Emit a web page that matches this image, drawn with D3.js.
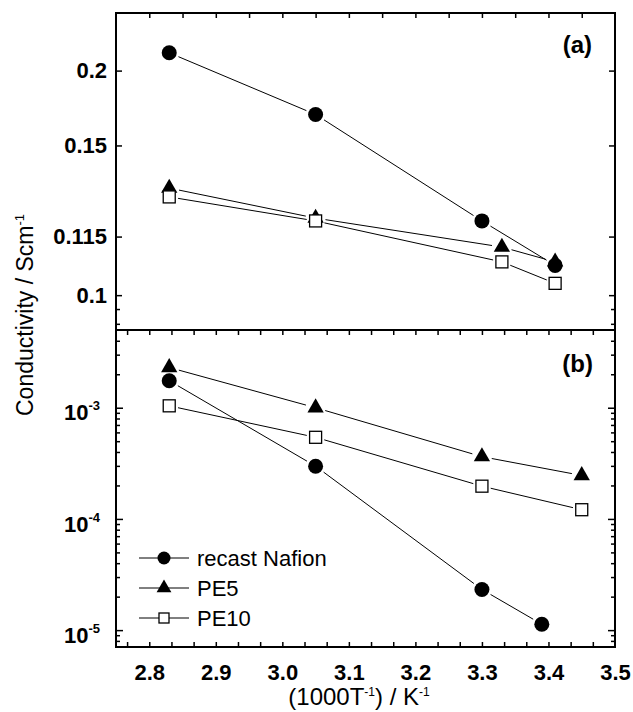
<!DOCTYPE html>
<html>
<head>
<meta charset="utf-8">
<script src="https://cdn.jsdelivr.net/npm/d3@7"></script>
<style>
  body { margin: 0; background: #fff; }
  svg { font-family: "Liberation Sans", Arial, sans-serif; }
  .tick line { stroke: #000; stroke-width: 1.5; }
</style>
</head>
<body>
<div id="chart"></div>
<script>
var svgWidth = 633;
var svgHeight = 712;

// x values (1000/T) and conductivities
var nafionXa = [2.83, 3.05, 3.30, 3.41];
var nafionA  = [0.2172, 0.1673, 0.1198, 0.1071];
var pe5Xa    = [2.83, 3.05, 3.33, 3.41];
var pe5A     = [0.1313, 0.1207, 0.1120, 0.1080];
var pe10Xa   = [2.83, 3.05, 3.33, 3.41];
var pe10A    = [0.1280, 0.1198, 0.1080, 0.1027];

var nafionXb = [2.83, 3.05, 3.30, 3.39];
var nafionB  = [1.75e-3, 2.98e-4, 2.32e-5, 1.13e-5];
var pe5Xb    = [2.83, 3.05, 3.30, 3.45];
var pe5B     = [2.3e-3, 1.0e-3, 3.63e-4, 2.46e-4];
var pe10Xb   = [2.83, 3.05, 3.30, 3.45];
var pe10B    = [1.04e-3, 5.42e-4, 1.97e-4, 1.21e-4];

// tick labels
var xTicks = [2.8, 2.9, 3.0, 3.1, 3.2, 3.3, 3.4, 3.5];
var xTickLabels = ["2.8", "2.9", "3.0", "3.1", "3.2", "3.3", "3.4", "3.5"];
var aTicks = [0.2, 0.15, 0.115, 0.1];
var aTickLabels = ["0.2", "0.15", "0.115", "0.1"];
var aMinor = [0.097, 0.094];
var bTicks = [1e-3, 1e-4, 1e-5];
var bTickExp = ["-3", "-4", "-5"];

var legendNames = ["recast Nafion", "PE5", "PE10"];

// frame edges
var frameL = 116, frameR = 615, frameT = 13, frameM = 330, frameB = 647;
var labelFont = "Liberation Sans, Arial, sans-serif";

var svg = d3.select("#chart")
  .append("svg")
    .attr("width", svgWidth)
    .attr("height", svgHeight);

var x = d3.scaleLinear().domain([2.75, 3.5]).range([frameL, frameR]);
// panel (a) uses a reciprocal axis
var yA = d3.scalePow().exponent(-1).domain([0.0928, 0.269]).range([frameM, frameT]);
var yB = d3.scaleLog().domain([7.05e-6, 5e-3]).range([frameB, frameM]);

// ---- ticks ----
function noLabels(axis) { return axis.tickFormat(""); }

// top axis, every 0.05
svg.append("g").attr("transform", `translate(0,${frameT})`)
  .call(noLabels(d3.axisTop(x).tickValues(d3.range(0, 14).map(i => 2.8 + i * 0.05)).tickSize(-5)));
// divider & bottom, every 1/30
var thirds = d3.range(-1, 21).map(i => 2.8 + i / 30);
svg.append("g").attr("transform", `translate(0,${frameM})`)
  .call(noLabels(d3.axisBottom(x).tickValues(thirds).tickSize(5)));
svg.append("g").attr("transform", `translate(0,${frameB})`)
  .call(noLabels(d3.axisBottom(x).tickValues(thirds).tickSize(-5)));

// x labels
var xLab = svg.append("g").attr("transform", `translate(0,${frameB})`)
  .call(d3.axisBottom(x).tickValues(xTicks).tickSize(0).tickPadding(17)
    .tickFormat((d, i) => xTickLabels[i]));
xLab.selectAll("text").attr("font-size", 22).attr("font-weight", "bold")
  .attr("font-family", labelFont).attr("fill", "#000");

// panel a y ticks
svg.append("g").attr("transform", `translate(${frameL},0)`)
  .call(d3.axisLeft(yA).tickValues(aTicks).tickSize(-6).tickPadding(9)
    .tickFormat((d, i) => aTickLabels[i]))
  .selectAll("text").attr("font-size", 22).attr("font-weight", "bold")
  .attr("font-family", labelFont).attr("fill", "#000");
svg.append("g").attr("transform", `translate(${frameL},0)`)
  .call(noLabels(d3.axisLeft(yA).tickValues(aMinor).tickSize(-4)));
svg.append("g").attr("transform", `translate(${frameR},0)`)
  .call(noLabels(d3.axisRight(yA).tickValues(aTicks).tickSize(-6)));
svg.append("g").attr("transform", `translate(${frameR},0)`)
  .call(noLabels(d3.axisRight(yA).tickValues(aMinor).tickSize(-4)));

// panel b y ticks
var bMinor = [];
[1e-6, 1e-5, 1e-4, 1e-3].forEach(function(dec) {
  d3.range(2, 10).forEach(function(m) {
    var v = dec * m;
    if (v > 7.05e-6 && v < 5e-3) bMinor.push(v);
  });
});
var bMajor = svg.append("g").attr("transform", `translate(${frameL},0)`)
  .call(d3.axisLeft(yB).tickValues(bTicks).tickSize(-7).tickPadding(16).tickFormat(""));
bMajor.selectAll(".tick text").each(function(d, i) {
  var t = d3.select(this)
    .attr("font-size", 22).attr("font-weight", "bold").attr("fill", "#000")
    .attr("font-family", labelFont);
  t.append("tspan").text("10");
  t.append("tspan").attr("font-size", 13).attr("dy", -10).text(bTickExp[i]);
});
svg.append("g").attr("transform", `translate(${frameL},0)`)
  .call(noLabels(d3.axisLeft(yB).tickValues(bMinor).tickSize(-4)));
svg.append("g").attr("transform", `translate(${frameR},0)`)
  .call(noLabels(d3.axisRight(yB).tickValues(bTicks).tickSize(-7)));
svg.append("g").attr("transform", `translate(${frameR},0)`)
  .call(noLabels(d3.axisRight(yB).tickValues(bMinor).tickSize(-4)));

svg.selectAll(".domain").remove();

bMajor.selectAll(".tick text").attr("text-anchor", "end").attr("dy", "0.55em");

// frame
svg.append("rect")
  .attr("x", frameL).attr("y", frameT)
  .attr("width", frameR - frameL).attr("height", frameB - frameT)
  .attr("fill", "none").attr("stroke", "#000").attr("stroke-width", 2);
svg.append("line")
  .attr("x1", frameL).attr("x2", frameR).attr("y1", frameM).attr("y2", frameM)
  .attr("stroke", "#000").attr("stroke-width", 2);

// ---- series ----
function drawLine(xs, ys, yScale, gap) {
  var pts = xs.map((d, i) => [x(d), yScale(ys[i])]);
  for (var i = 0; i < pts.length - 1; i++) {
    var p = pts[i], q = pts[i + 1];
    var dx = q[0] - p[0], dy = q[1] - p[1];
    var len = Math.sqrt(dx * dx + dy * dy);
    if (len <= 2 * gap) continue;
    var ux = dx / len, uy = dy / len;
    svg.append("line")
      .attr("x1", p[0] + ux * gap).attr("y1", p[1] + uy * gap)
      .attr("x2", q[0] - ux * gap).attr("y2", q[1] - uy * gap)
      .attr("stroke", "#000").attr("stroke-width", 1);
  }
}

function drawCircles(xs, ys, yScale) {
  svg.append("g").selectAll("circle")
    .data(xs).enter().append("circle")
      .attr("cx", d => x(d))
      .attr("cy", (d, i) => yScale(ys[i]))
      .attr("r", 7.5)
      .attr("fill", "#000");
}

var triangle = d3.symbol().type(d3.symbolTriangle).size(115);
function drawTriangles(xs, ys, yScale) {
  svg.append("g").selectAll("path")
    .data(xs).enter().append("path")
      .attr("d", triangle)
      .attr("transform", (d, i) => `translate(${x(d)},${yScale(ys[i])})`)
      .attr("fill", "#000");
}

function drawSquares(xs, ys, yScale) {
  svg.append("g").selectAll("rect")
    .data(xs).enter().append("rect")
      .attr("x", d => x(d) - 6)
      .attr("y", (d, i) => yScale(ys[i]) - 6)
      .attr("width", 12).attr("height", 12)
      .attr("fill", "#fff").attr("stroke", "#000").attr("stroke-width", 1.3);
}

// panel a
drawLine(nafionXa, nafionA, yA, 10);
drawLine(pe5Xa, pe5A, yA, 10);
drawLine(pe10Xa, pe10A, yA, 9);
drawCircles(nafionXa, nafionA, yA);
drawTriangles(pe5Xa, pe5A, yA);
drawSquares(pe10Xa, pe10A, yA);

// panel b
drawLine(nafionXb, nafionB, yB, 10);
drawLine(pe5Xb, pe5B, yB, 10);
drawLine(pe10Xb, pe10B, yB, 9);
drawCircles(nafionXb, nafionB, yB);
drawTriangles(pe5Xb, pe5B, yB);
drawSquares(pe10Xb, pe10B, yB);

// panel tags
svg.append("text").attr("x", 592).attr("y", 53).attr("text-anchor", "end")
  .attr("font-size", 24).attr("font-weight", "bold").text("(a)");
svg.append("text").attr("x", 593).attr("y", 372).attr("text-anchor", "end")
  .attr("font-size", 24).attr("font-weight", "bold").text("(b)");

// legend
var legendY = [558, 588, 618];
legendNames.forEach(function(name, i) {
  var ly = legendY[i];
  svg.append("line").attr("x1", 139).attr("x2", 189).attr("y1", ly).attr("y2", ly)
    .attr("stroke", "#000").attr("stroke-width", 1);
  if (i === 0) {
    svg.append("circle").attr("cx", 164).attr("cy", ly).attr("r", 6.5).attr("fill", "#000");
  } else if (i === 1) {
    svg.append("path").attr("d", d3.symbol().type(d3.symbolTriangle).size(95))
      .attr("transform", `translate(164,${ly})`).attr("fill", "#000");
  } else {
    svg.append("rect").attr("x", 159).attr("y", ly - 5).attr("width", 10).attr("height", 10)
      .attr("fill", "#fff").attr("stroke", "#000").attr("stroke-width", 1.3);
  }
  svg.append("text").attr("x", 197).attr("y", ly + 8)
    .attr("font-size", 22).text(name);
});

// axis titles
var yTitle = svg.append("text")
  .attr("transform", "translate(33,315) rotate(-90)")
  .attr("text-anchor", "middle").attr("font-size", 23);
yTitle.append("tspan").text("Conductivity / Scm");
yTitle.append("tspan").attr("font-size", 13).attr("dy", -9).text("-1");

var xTitle = svg.append("text")
  .attr("x", 359).attr("y", 705)
  .attr("text-anchor", "middle").attr("font-size", 24);
xTitle.append("tspan").text("(1000T");
xTitle.append("tspan").attr("font-size", 12).attr("dy", -9).text("-1");
xTitle.append("tspan").attr("dy", 9).text(") / K");
xTitle.append("tspan").attr("font-size", 12).attr("dy", -9).text("-1");
</script>
</body>
</html>
